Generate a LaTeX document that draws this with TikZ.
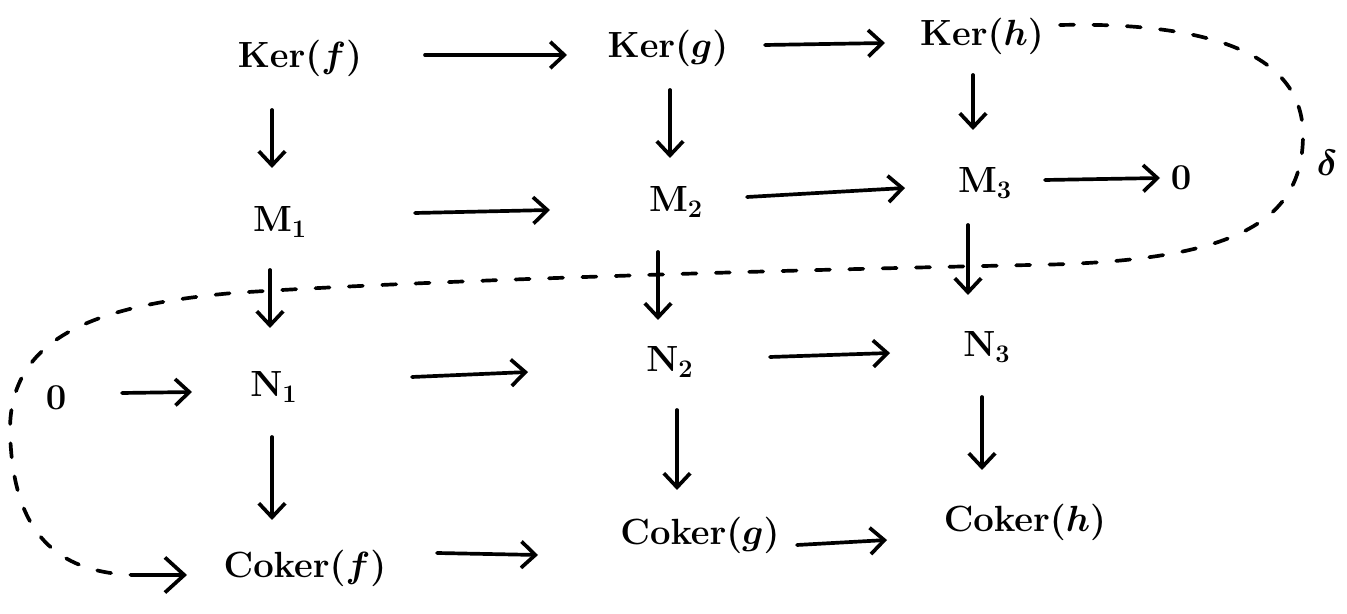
\documentclass[tikz,border=0pt]{standalone}
\usetikzlibrary{arrows.meta,calc}
\begin{document}
\begin{tikzpicture}[x=0.02cm,y=-0.02cm,
  lbl/.style={inner sep=0pt,font=\fontsize{21}{26}\selectfont\boldmath},
  arr/.style={line width=2.1pt,line cap=round,-{Straight Barb[length=8pt,width=15pt]}},
  snake/.style={line width=2.1pt,line cap=round,dash pattern=on 8pt off 11pt},
  chev/.style={line width=2.1pt,line cap=round,-{Straight Barb[length=11pt,width=20pt]}}]
\useasboundingbox (0,0) rectangle (1347,614);
% nodes
\node[lbl] (kf) at (300,58) {$\mathrm{Ker}(f)$};
\node[lbl] (kg) at (668,48) {$\mathrm{Ker}(g)$};
\node[lbl] (kh) at (982,36) {$\mathrm{Ker}(h)$};
\node[lbl] (m1) at (280,222) {$\mathrm{M}_1$};
\node[lbl] (m2) at (676,202) {$\mathrm{M}_2$};
\node[lbl] (m3) at (985,183) {$\mathrm{M}_3$};
\node[lbl] (z1) at (1181,178) {$0$};
\node[lbl] (dl) at (1327,163) {$\delta$};
\node[lbl] (z0) at (56,398) {$0$};
\node[lbl] (n1) at (274,387) {$\mathrm{N}_1$};
\node[lbl] (n2) at (670,362) {$\mathrm{N}_2$};
\node[lbl] (n3) at (987,347) {$\mathrm{N}_3$};
\node[lbl] (cf) at (305,568) {$\mathrm{Coker}(f)$};
\node[lbl] (cg) at (700,535) {$\mathrm{Coker}(g)$};
\node[lbl] (ch) at (1025,522) {$\mathrm{Coker}(h)$};
% horizontal arrows
\draw[arr] ($(kf.center)+(125,-3)$) -- ($(kg.center)+(-101,7)$);
\draw[arr] ($(kg.center)+(97,-3)$) -- ($(kh.center)+(-97,7)$);
\draw[arr] ($(m1.center)+(135,-9)$) -- ($(m2.center)+(-126,8)$);
\draw[arr] ($(m2.center)+(71,-5)$) -- ($(m3.center)+(-80,5)$);
\draw[arr] ($(m3.center)+(60,-3)$) -- ($(z1.center)+(-21,0)$);
\draw[arr] ($(z0.center)+(66,-5)$) -- ($(n1.center)+(-82,5)$);
\draw[arr] ($(n1.center)+(138,-10)$) -- ($(n2.center)+(-142,10)$);
\draw[arr] ($(n2.center)+(100,-5)$) -- ($(n3.center)+(-97,6)$);
\draw[arr] ($(cf.center)+(132,-15)$) -- ($(cg.center)+(-162,20)$);
\draw[arr] ($(cg.center)+(97,10)$) -- ($(ch.center)+(-138,18)$);
% vertical arrows
\draw[arr] ($(kf.center)+(-28,52)$) -- ($(m1.center)+(-8,-54)$);
\draw[arr] ($(kg.center)+(2,42)$) -- ($(m2.center)+(-6,-44)$);
\draw[arr] ($(kh.center)+(-9,39)$) -- ($(m3.center)+(-12,-53)$);
\draw[arr] ($(m1.center)+(-10,48)$) -- ($(n1.center)+(-4,-59)$);
\draw[arr] ($(m2.center)+(-18,50)$) -- ($(n2.center)+(-12,-42)$);
\draw[arr] ($(m3.center)+(-17,42)$) -- ($(n3.center)+(-19,-52)$);
\draw[arr] ($(n1.center)+(-2,50)$) -- ($(cf.center)+(-33,-48)$);
\draw[arr] ($(n2.center)+(7,48)$) -- ($(cg.center)+(-23,-45)$);
\draw[arr] ($(n3.center)+(-5,50)$) -- ($(ch.center)+(-43,-52)$);
% connecting (snake) map
\coordinate (sn) at (133,575);
\draw[snake] ($(kh.center)+(78,-11)$) .. controls (1200,22) and (1303,50) .. (1303,135)
  .. controls (1303,225) and (1230,262) .. (1030,265)
  .. controls (700,272) and (400,282) .. (233,293)
  .. controls (100,305) and (10,335) .. (10,430)
  .. controls (12,520) and (45,572) .. (sn);
\draw[chev] (sn) -- ($(cf.center)+(-118,7)$);
\end{tikzpicture}
\end{document}
